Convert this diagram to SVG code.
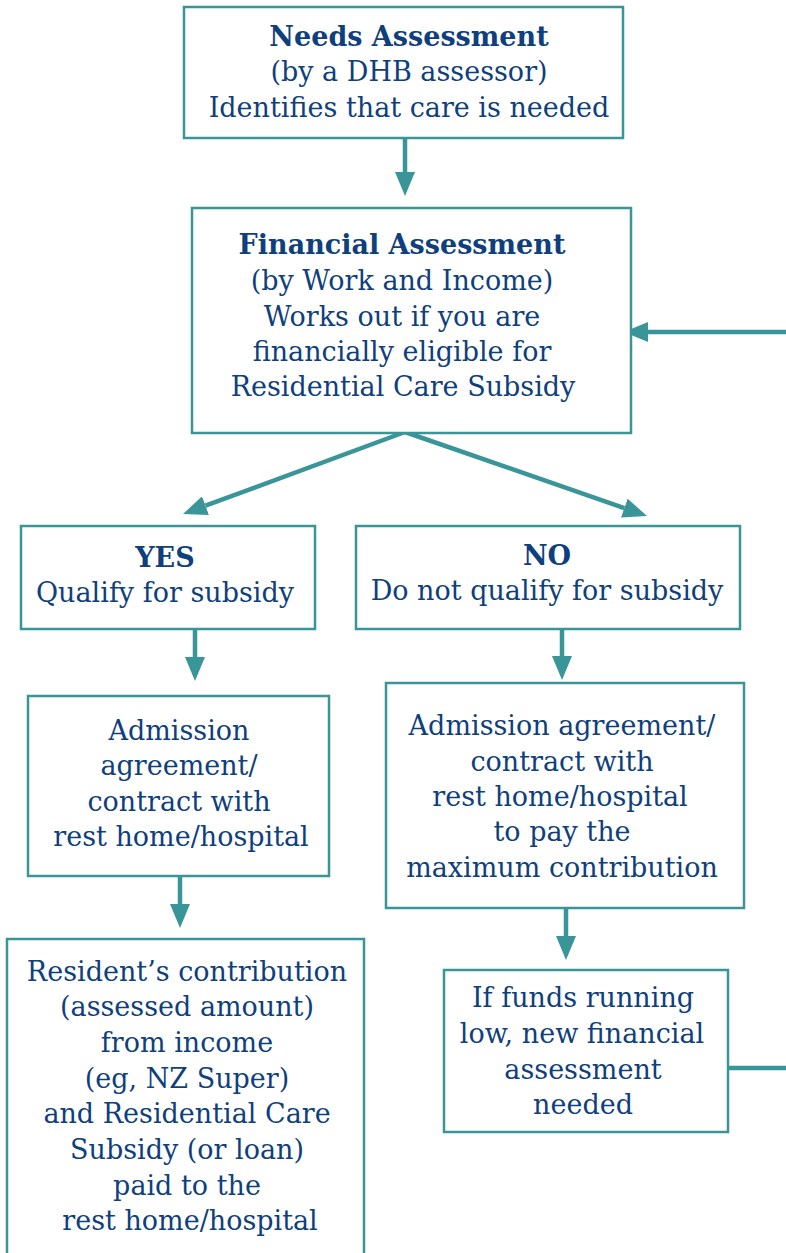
<svg xmlns="http://www.w3.org/2000/svg" width="786" height="1253" viewBox="0 0 786 1253">
<defs>
<style>
.box{fill:#fff;stroke:#3a9598;stroke-width:2.5}
.t{font-family:"DejaVu Serif","Liberation Serif",serif;font-size:27px;fill:#0f3f7c;text-anchor:middle}
.b{font-weight:bold}
.c{fill:none;stroke:#3a9598;stroke-width:4.5}
</style>
<marker id="ah" viewBox="0 0 24 20" refX="0" refY="10" markerWidth="24" markerHeight="20" markerUnits="userSpaceOnUse" orient="auto">
<path d="M0,0 L24,10 L0,20 z" fill="#3a9598"/>
</marker>
</defs>
<rect width="786" height="1253" fill="#fff"/>
<g id="connectors">
<line class="c" x1="405" y1="138" x2="405" y2="172" marker-end="url(#ah)"/>
<line class="c" x1="405" y1="432" x2="205.5" y2="505.7" marker-end="url(#ah)"/>
<line class="c" x1="405" y1="432" x2="624.3" y2="508.1" marker-end="url(#ah)"/>
<line class="c" x1="195" y1="629" x2="195" y2="657" marker-end="url(#ah)"/>
<line class="c" x1="562" y1="629" x2="562" y2="656" marker-end="url(#ah)"/>
<line class="c" x1="180" y1="876" x2="180" y2="904" marker-end="url(#ah)"/>
<line class="c" x1="566" y1="908" x2="566" y2="936" marker-end="url(#ah)"/>
<polyline class="c" points="728,1068 800,1068 800,332 648,332" marker-end="url(#ah)"/>
</g>
<g id="needs">
<rect class="box" x="184" y="7" width="439" height="131"/>
<text class="t b" x="409" y="46">Needs Assessment</text>
<text class="t" x="409" y="81">(by a DHB assessor)</text>
<text class="t" x="409" y="117">Identifies that care is needed</text>
</g>
<g id="financial">
<rect class="box" x="192" y="208" width="439" height="225"/>
<text class="t b" x="402" y="254">Financial Assessment</text>
<text class="t" x="402" y="290">(by Work and Income)</text>
<text class="t" x="402" y="326">Works out if you are</text>
<text class="t" x="402" y="361">financially eligible for</text>
<text class="t" x="403" y="396">Residential Care Subsidy</text>
</g>
<g id="yes">
<rect class="box" x="21" y="526" width="294" height="103"/>
<text class="t b" x="165" y="567">YES</text>
<text class="t" x="165" y="602">Qualify for subsidy</text>
</g>
<g id="no">
<rect class="box" x="356" y="526" width="384" height="103"/>
<text class="t b" x="547" y="565">NO</text>
<text class="t" x="547" y="600">Do not qualify for subsidy</text>
</g>
<g id="admission-yes">
<rect class="box" x="28" y="696" width="301" height="180"/>
<text class="t" x="179" y="740">Admission</text>
<text class="t" x="179" y="775">agreement/</text>
<text class="t" x="179" y="811">contract with</text>
<text class="t" x="181" y="846">rest home/hospital</text>
</g>
<g id="admission-no">
<rect class="box" x="386" y="683" width="358" height="225"/>
<text class="t" x="562" y="735">Admission agreement/</text>
<text class="t" x="562" y="771">contract with</text>
<text class="t" x="560" y="806">rest home/hospital</text>
<text class="t" x="562" y="841">to pay the</text>
<text class="t" x="562" y="877">maximum contribution</text>
</g>
<g id="resident">
<rect class="box" x="7" y="939" width="357" height="340"/>
<text class="t" x="187" y="981">Resident’s contribution</text>
<text class="t" x="187" y="1016">(assessed amount)</text>
<text class="t" x="187" y="1052">from income</text>
<text class="t" x="187" y="1088">(eg, NZ Super)</text>
<text class="t" x="187" y="1123">and Residential Care</text>
<text class="t" x="187" y="1159">Subsidy (or loan)</text>
<text class="t" x="187" y="1195">paid to the</text>
<text class="t" x="190" y="1230">rest home/hospital</text>
</g>
<g id="funds">
<rect class="box" x="444" y="970" width="284" height="162"/>
<text class="t" x="583" y="1007">If funds running</text>
<text class="t" x="582" y="1043">low, new financial</text>
<text class="t" x="583" y="1079">assessment</text>
<text class="t" x="583" y="1114">needed</text>
</g>
</svg>
